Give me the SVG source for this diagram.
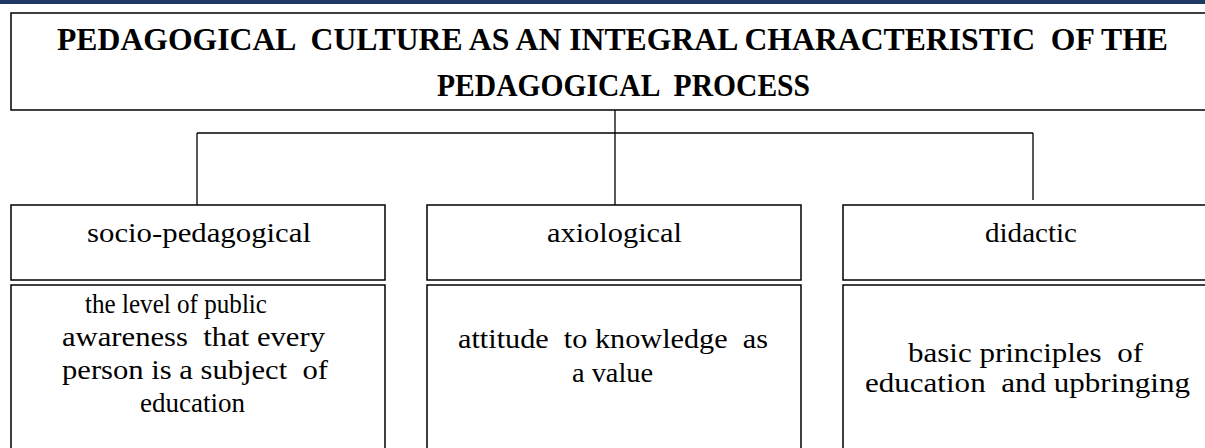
<svg xmlns="http://www.w3.org/2000/svg" width="1205" height="448" viewBox="0 0 1205 448">
  <style>
    .box { fill: #ffffff; stroke: #000000; stroke-width: 1.5; }
    .link { fill: none; stroke: #000000; stroke-width: 1.3; }
    .title { font-family: 'Liberation Serif', 'Times New Roman', 'DejaVu Serif', serif; font-weight: bold; font-size: 31px; fill: #000000; white-space: pre; }
    .label { font-family: 'Liberation Serif', 'Times New Roman', 'DejaVu Serif', serif; font-size: 28px; fill: #000000; white-space: pre; }
  </style>

  <!-- page header band -->
  <rect x="0" y="0" width="1205" height="4" fill="#1f3864"/>

  <!-- root node -->
  <g id="root">
    <rect class="box" x="11" y="13" width="1203" height="97"/>
    <text class="title" x="57" y="50" textLength="1111" lengthAdjust="spacingAndGlyphs">PEDAGOGICAL  CULTURE AS AN INTEGRAL CHARACTERISTIC  OF THE</text>
    <text class="title" x="437" y="96" textLength="373" lengthAdjust="spacingAndGlyphs">PEDAGOGICAL  PROCESS</text>
  </g>

  <!-- tree connectors -->
  <g id="connectors">
    <path class="link" d="M615 110 V205"/>
    <path class="link" d="M197 133 H1033"/>
    <path class="link" d="M197 133 V205"/>
    <path class="link" d="M1033 133 V200"/>
  </g>

  <!-- socio-pedagogical branch -->
  <g id="socio-pedagogical">
    <rect class="box" x="11" y="205" width="374" height="75"/>
    <text class="label" x="87" y="242" textLength="224" lengthAdjust="spacingAndGlyphs">socio-pedagogical</text>
  </g>
  <g id="socio-pedagogical-desc">
    <rect class="box" x="11" y="285" width="374" height="170"/>
    <text class="label" x="85" y="313" textLength="182" lengthAdjust="spacingAndGlyphs">the level of public</text>
    <text class="label" x="62" y="346" textLength="263" lengthAdjust="spacingAndGlyphs">awareness  that every</text>
    <text class="label" x="62" y="379" textLength="266" lengthAdjust="spacingAndGlyphs">person is a subject  of</text>
    <text class="label" x="140" y="412" textLength="105" lengthAdjust="spacingAndGlyphs">education</text>
  </g>

  <!-- axiological branch -->
  <g id="axiological">
    <rect class="box" x="427" y="205" width="374" height="75"/>
    <text class="label" x="547" y="242" textLength="135" lengthAdjust="spacingAndGlyphs">axiological</text>
  </g>
  <g id="axiological-desc">
    <rect class="box" x="427" y="285" width="374" height="170"/>
    <text class="label" x="458" y="348" textLength="310" lengthAdjust="spacingAndGlyphs">attitude  to knowledge  as</text>
    <text class="label" x="572" y="382" textLength="81" lengthAdjust="spacingAndGlyphs">a value</text>
  </g>

  <!-- didactic branch -->
  <g id="didactic">
    <rect class="box" x="843" y="205" width="374" height="75"/>
    <text class="label" x="985" y="242" textLength="92" lengthAdjust="spacingAndGlyphs">didactic</text>
  </g>
  <g id="didactic-desc">
    <rect class="box" x="843" y="285" width="374" height="170"/>
    <text class="label" x="908" y="362" textLength="235" lengthAdjust="spacingAndGlyphs">basic principles  of</text>
    <text class="label" x="865" y="392" textLength="325" lengthAdjust="spacingAndGlyphs">education  and upbringing</text>
  </g>
</svg>
